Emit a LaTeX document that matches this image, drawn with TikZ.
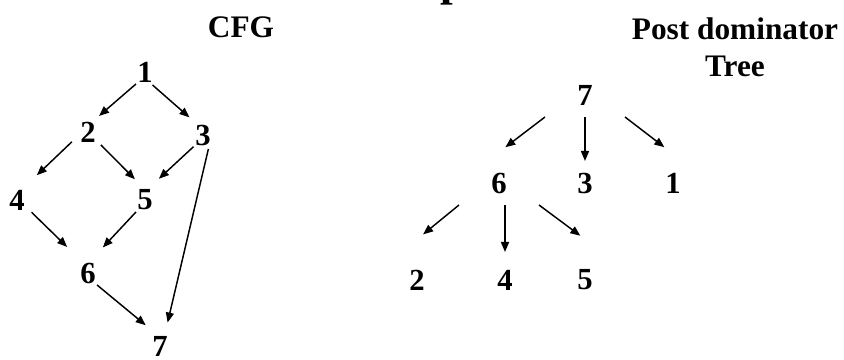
\documentclass[tikz,border=0pt]{standalone}
\usepackage{fontspec}
\setmainfont{Liberation Serif}
\usetikzlibrary{arrows.meta}

\tikzset{every picture/.style={line width=0.75pt}}
\tikzset{
  num/.style={circle,inner sep=0pt,outer sep=0pt,minimum size=22.5pt,font=\fontsize{23}{27}\selectfont\bfseries},
  leaf/.style={rectangle,inner sep=0pt,outer sep=0pt,minimum width=60pt,minimum height=33pt,font=\fontsize{23}{27}\selectfont\bfseries},
  head/.style={inner sep=0pt,font=\fontsize{23.5}{27.75}\selectfont\bfseries},
  arr/.style={-{Triangle[length=7.5pt,width=6pt]},line width=1.1pt},
}

\begin{document}
\begin{tikzpicture}[x=0.75pt,y=0.75pt,yscale=-1,xscale=1]
\clip (0,0) rectangle (844,360);

% Text Node
\draw (413,-4) node [anchor=base,inner sep=0pt,font=\fontsize{34}{40}\selectfont\bfseries] (ttl) {Example};
% Text Node
\draw (241,27) node [head] (cfg) {CFG};
% Text Node
\draw (735,17) node [head,anchor=north,align=center] (pdt) {Post dominator\\Tree};

%CFG nodes
\draw (145,72) node [num] (c1) {1};
\draw (88,132) node [num] (c2) {2};
\draw (203,135) node [num] (c3) {3};
\draw (17,200) node [num] (c4) {4};
\draw (145,200) node [num] (c5) {5};
\draw (88,273) node [num] (c6) {6};
\draw (160,346) node [num] (c7) {7};

%CFG edges
\draw [arr,shorten >=3.5pt] (c1.233) -- (c2.60);
\draw [arr,shorten >=5.6pt] (c1.300) -- (c3.122);
\draw [arr,shorten <=3pt,shorten >=12.8pt] (c2.208) -- (c4.60);
\draw [arr,shorten <=2.5pt,shorten >=6.6pt] (c2.315) -- (c5.105);
\draw [arr,shorten >=8.2pt] (c3.231) -- (c5.67);
\draw [arr,shorten >=7.3pt] (c3.291) -- (c7.69);
\draw [arr,shorten <=3pt,shorten >=14pt] (c4.321) -- (c6.120);
\draw [arr,shorten >=11.5pt] (c5.233) -- (c6.73);
\draw [arr,shorten >=8.2pt] (c6.307) -- (c7.113);

%Post dominator tree nodes
\draw (585,95) node [leaf] (t7) {7};
\draw (499,183) node [leaf] (t6) {6};
\draw (585,183) node [leaf] (t3) {3};
\draw (673,183) node [leaf] (t1) {1};
\draw (417,280) node [leaf] (t2) {2};
\draw (505,280) node [leaf] (t4) {4};
\draw (585,280) node [leaf] (t5) {5};

%Post dominator tree edges
\draw [arr,shorten >=17pt] (t7.south west) -- (t6.118);
\draw [arr] (t7.south) -- (t3.north);
\draw [arr,shorten >=17pt] (t7.south east) -- (t1.67);
\draw [arr,shorten >=28pt] (t6.south west) -- (t2.136);
\draw [arr,shorten >=4.5pt] (t6.south -| t4) -- (t4.north);
\draw [arr,shorten >=28pt] (t6.south east) -- (t5.41);

\end{tikzpicture}
\end{document}
